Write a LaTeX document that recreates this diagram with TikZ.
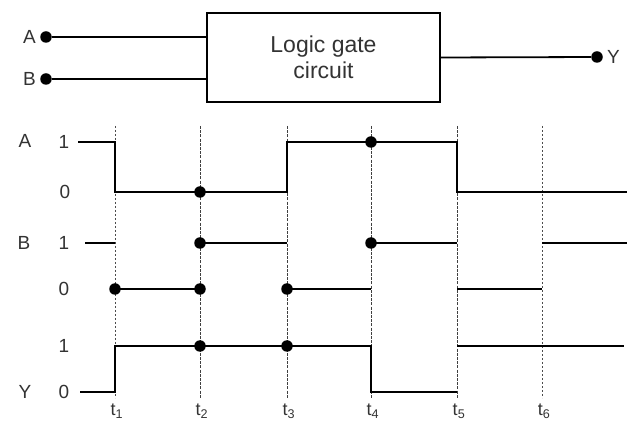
\documentclass[tikz,border=0pt]{standalone}
\usepackage{fontspec}
\setmainfont{Liberation Sans}
\begin{document}
\begin{tikzpicture}[x=1pt,y=-1pt,
  wave/.style={line width=2pt, line join=miter},
  guide/.style={line width=0.9pt, dash pattern=on 3pt off 1.2pt, black!75},
  guided/.style={line width=0.9pt, dash pattern=on 2pt off 2pt, black!70},
  dotc/.style={circle, fill=black, inner sep=0pt, minimum size=11.5pt},
  lbl/.style={font=\fontsize{19}{21}\selectfont, inner sep=0pt, text=black!80},
  tlbl/.style={font=\fontsize{18}{20}\selectfont, inner sep=0pt, text=black!80}]
\useasboundingbox (0,0) rectangle (627,427);
% block diagram
\node[draw, line width=1.5pt, minimum width=233pt, minimum height=89pt,
      align=center, font=\fontsize{23}{26}\selectfont, text=black!80] (gate) at (323.5,57.5) {Logic gate\\circuit};
\node[dotc] (inA) at (46,37) {};
\node[dotc] (inB) at (46,79) {};
\node[dotc] (outY) at (597,57) {};
\node[lbl, anchor=east] (lA) at (36,37) {A};
\node[lbl, anchor=east] (lB) at (36,79) {B};
\node[lbl, anchor=west] (lY) at (607,57) {Y};
\draw[line width=2.3pt] (inA) -- (inA -| gate.west);
\draw[line width=2.3pt] (inB) -- (inB -| gate.west);
\draw[line width=1.8pt] (gate.east) -- (outY);
% time guides
\foreach \n/\x/\s in {1/115/guided,2/200/guide,3/287/guide,4/371/guide,5/457/guide,6/542/guided}{
  \coordinate (g\n) at (\x,126);
  \coordinate (h\n) at (\x,398);
  \draw[\s] (g\n) -- (h\n);
  \node[tlbl] (t\n) at (\x+2,411) {t\textsubscript{\n}};
}
% level labels
\node[lbl] (wA) at (25,141) {A};
\node[lbl] (wA1) at (64,142) {1};
\node[lbl] (wA0) at (65,192) {0};
\node[lbl] (wB) at (24,243) {B};
\node[lbl] (wB1) at (64,243) {1};
\node[lbl] (wB0) at (64,289) {0};
\node[lbl] (wY1) at (64,346) {1};
\node[lbl] (wY) at (25,392) {Y};
\node[lbl] (wY0) at (64,392) {0};
% waveforms
\draw[wave] (78,142) -- (115,142) -- (115,192) -- (287,192) -- (287,142) -- (457,142) -- (457,192) -- (627,192);
\draw[wave] (85,243) -- (115,243);
\draw[wave] (115,289) -- (200,289);
\draw[wave] (200,243) -- (287,243);
\draw[wave] (287,289) -- (371,289);
\draw[wave] (371,243) -- (457,243);
\draw[wave] (457,289) -- (542,289);
\draw[wave] (542,243) -- (627,243);
\draw[wave] (80,392) -- (115,392) -- (115,346) -- (371,346) -- (371,392) -- (457,392);
\draw[wave] (457,346) -- (624,346);
% dots
\foreach \p in {(200,192),(371,142),(200,243),(371,243),(115,289),(200,289),(287,289),(200,346),(287,346)}
  \node[dotc] at \p {};
\end{tikzpicture}
\end{document}
